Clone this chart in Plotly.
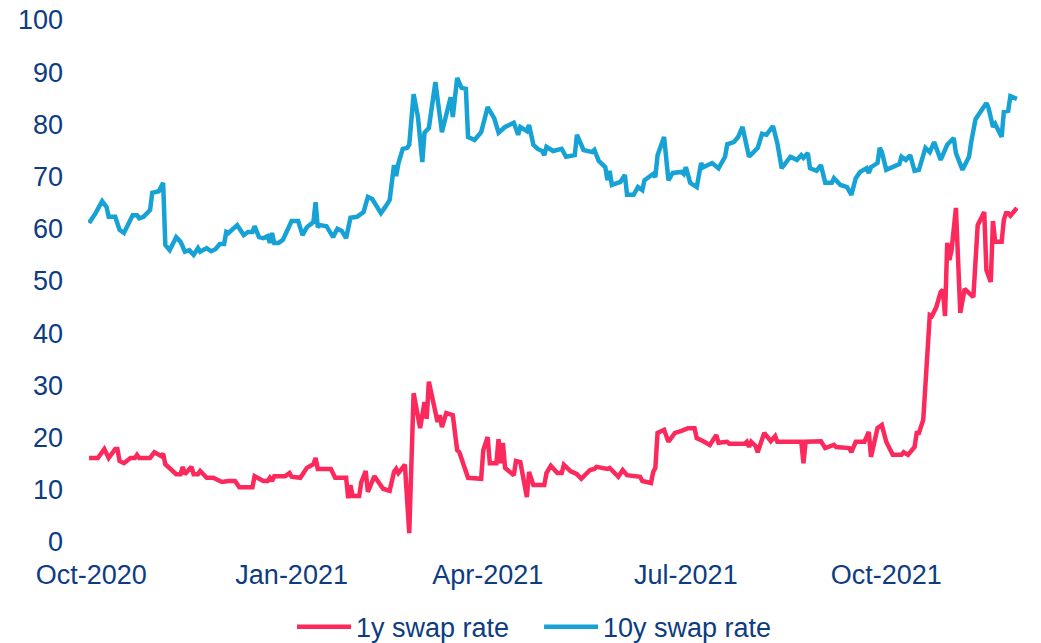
import pandas as pd
import plotly.graph_objects as go

START = "2020-10-01"

# 10y swap rate: days after 2020-10-01 and values (bp)
days_10y = [-1, 2, 5, 7, 8, 11, 13, 15, 19, 21,
            22, 24, 27, 28, 31, 33, 34, 36, 39, 41,
            43, 45, 47, 49, 50, 53, 55, 57, 59, 61,
            62, 63, 67, 70, 72, 74, 75, 77, 79, 81,
            82, 83, 84, 86, 88, 90, 92, 95, 97, 99,
            102, 103, 104, 105, 108, 111, 113, 115, 117, 119,
            122, 125, 127, 129, 133, 135, 137, 139, 140, 141,
            143, 145, 146, 148, 150, 152, 153, 155, 158, 161,
            163, 165, 166, 168, 170, 172, 173, 176, 179, 182,
            185, 187, 190, 194, 196, 197, 200, 201, 203, 205,
            207, 208, 209, 212, 216, 218, 222, 223, 226, 230,
            231, 233, 236, 237, 238, 239, 243, 245, 246, 249,
            251, 253, 254, 256, 258, 259, 260, 263, 265, 267,
            271, 272, 273, 275, 278, 280, 281, 285, 288, 291,
            292, 295, 297, 299, 302, 306, 308, 310, 313, 315,
            317, 321, 324, 326, 327, 329, 330, 333, 335, 337,
            340, 341, 344, 347, 349, 351, 353, 356, 357, 358,
            361, 362, 363, 365, 368, 371, 372, 374, 376, 378,
            380, 383, 385, 387, 390, 393, 396, 397, 400, 403,
            404, 406, 411, 412, 414, 415, 418, 419, 421, 422,
            425]
vals_10y = [61.1, 63, 65.3, 64.2, 62.3, 62.3, 59.8, 59.2, 62.6, 62.6,
            62, 62.3, 63.6, 66.9, 67.2, 68.8, 56.9, 55.9, 58.4, 57.5,
            55.6, 55.9, 55, 56.3, 55.6, 56.3, 55.7, 56.1, 57.1, 57.1,
            59.4, 59.2, 60.7, 58.8, 59.4, 59.4, 60.5, 58.4, 58.2, 58.6,
            57.3, 59.2, 57.3, 57.3, 57.9, 59.8, 61.5, 61.5, 58.8, 60.3,
            61.3, 65.1, 60.3, 60.7, 60.5, 58.4, 60, 59.6, 58.2, 62.1,
            62.3, 63.2, 66.1, 65.7, 63, 64.2, 65.5, 72.2, 70.1, 72.5,
            75.3, 75.5, 76.1, 85.8, 81.4, 72.8, 78.4, 79.3, 88.1, 78.5,
            82.2, 85.2, 81.4, 88.9, 87, 86.8, 77.6, 77, 78.5, 83.3,
            81.2, 78.4, 79.5, 80.3, 78, 79.5, 78.7, 79.9, 76.1, 75.3,
            74.9, 74.1, 75.7, 74.9, 75.3, 73.8, 74.1, 78, 75.1, 74.7,
            75.1, 73, 71.8, 69.3, 71.1, 68.4, 69, 70.3, 66.5, 66.5,
            68, 67.4, 69.3, 69.9, 70.5, 69.9, 74.1, 77.6, 69.3, 70.7,
            70.9, 70.5, 71.8, 68.8, 68, 72.6, 71.8, 72.6, 71.6, 73.8,
            76.2, 76.6, 77.6, 79.5, 73.8, 75.5, 78.2, 78, 79.7, 76.4,
            71.6, 73.8, 73.2, 74.1, 73.6, 74.5, 71.6, 71.1, 72.2, 68.8,
            68.8, 69.7, 68.4, 68, 66.5, 69.7, 70.9, 71.6, 70.7, 71.8,
            72.6, 75.5, 74.7, 71.3, 71.8, 72.4, 73.8, 73.2, 74.1, 71.1,
            71.3, 75.5, 74.7, 76.6, 73.2, 76.1, 77.4, 74.5, 71.3, 73.8,
            76.6, 81, 84.1, 83.1, 79.5, 80.1, 77.6, 82.4, 82.6, 85.4,
            84.9]

# 1y swap rate
days_1y = [-1, 3, 6, 8, 11, 12, 13, 15, 18, 20,
           21, 22, 27, 29, 32, 33, 34, 39, 41, 42,
           43, 46, 47, 49, 50, 53, 56, 60, 63, 66,
           68, 74, 75, 79, 81, 82, 83, 84, 89, 91,
           92, 96, 99, 102, 103, 104, 110, 112, 117, 118,
           119, 120, 123, 124, 126, 127, 130, 134, 137, 139,
           140, 141, 144, 146, 148, 151, 153, 154, 155, 159,
           160, 161, 163, 166, 168, 169, 173, 179, 180, 182,
           183, 186, 187, 188, 189, 190, 194, 195, 197, 200,
           201, 203, 208, 209, 211, 214, 216, 217, 220, 223,
           225, 229, 231, 232, 237, 238, 242, 244, 246, 252,
           253, 257, 258, 259, 260, 263, 265, 268, 271, 274,
           277, 278, 281, 284, 287, 288, 292, 293, 300, 301,
           302, 303, 305, 306, 308, 309, 312, 314, 315, 326,
           327, 328, 335, 337, 341, 342, 348, 349, 351, 355,
           357, 358, 361, 363, 365, 368, 372, 373, 375, 378,
           379, 380, 382, 383, 384, 385, 386, 388, 390, 391,
           392, 393, 394, 395, 397, 398, 399, 401, 404, 405,
           407, 410, 411, 413, 414, 415, 418, 419, 420, 421,
           422, 425]
vals_1y = [16.1, 16.1, 17.8, 16.1, 17.8, 17.8, 15.5, 15.1, 16.1, 16.1,
           16.7, 16.1, 16.1, 17.2, 16.5, 16.9, 14.9, 13, 13, 14.4,
           13, 14.4, 13, 13, 13.6, 12.3, 12.3, 11.5, 11.7, 11.7,
           10.5, 10.5, 12.6, 11.7, 11.7, 12.3, 11.7, 12.6, 12.6, 13.2,
           12.5, 12.3, 14.2, 14.9, 16.1, 14, 14, 12.3, 12.3, 8.4,
           10.9, 8.8, 8.8, 11.5, 13.6, 9.6, 12.6, 10.2, 9.8, 13.4,
           14, 13.2, 14.8, 1.7, 28.5, 21.8, 26.8, 23.6, 30.7, 23,
           24.3, 22, 24.7, 24.3, 17.6, 17.2, 12.3, 12.1, 17.6, 20.1,
           15.1, 15.1, 19.7, 15.1, 19, 14.2, 12.8, 15.5, 15.3, 8.6,
           13.4, 10.9, 10.9, 13.2, 14.6, 13.2, 13.2, 14.8, 13.6, 13,
           12.1, 13.8, 14, 14.4, 14, 14.2, 12.5, 13.8, 12.8, 12.5,
           11.7, 11.3, 13.4, 14.2, 20.9, 21.5, 19.2, 20.9, 21.3, 21.8,
           21.8, 19.9, 19.3, 18.6, 20.5, 19, 19.2, 18.8, 18.8, 19.2,
           18.2, 19.2, 18.4, 17.2, 19.7, 20.9, 19.3, 20.3, 19.2, 19.2,
           15.1, 19.2, 19.3, 18, 18.6, 18.2, 18, 17.2, 19.2, 19.2,
           21.1, 16.3, 21.8, 22.4, 19.2, 16.7, 16.7, 17.2, 16.7, 18.2,
           20.9, 20.9, 23.4, 30, 36.8, 43.5, 43.3, 45, 47.9, 48.3,
           43.3, 57.3, 54, 55.9, 64, 54.4, 43.9, 48.5, 47.1, 46.9,
           60.7, 63.2, 52.1, 49.8, 61.5, 57.5, 57.5, 61.7, 63, 63,
           62.5, 64]

tick_dates = ["2020-10-01", "2021-01-01", "2021-04-01", "2021-07-01", "2021-10-01"]
tick_labels = ["Oct-2020", "Jan-2021", "Apr-2021", "Jul-2021", "Oct-2021"]
y_ticks = [0, 10, 20, 30, 40, 50, 60, 70, 80, 90, 100]

start = pd.Timestamp(START)
x_1y = start + pd.to_timedelta(days_1y, unit="D")
x_10y = start + pd.to_timedelta(days_10y, unit="D")

RED = "#FB295C"
BLUE = "#17A2D6"
NAVY = "#0E3C80"
FONT = "Liberation Sans, Arial, sans-serif"

fig = go.Figure()
fig.add_trace(go.Scatter(x=x_1y, y=vals_1y, mode="lines", name="1y swap rate",
                         line=dict(color=RED, width=4.5)))
fig.add_trace(go.Scatter(x=x_10y, y=vals_10y, mode="lines", name="10y swap rate",
                         line=dict(color=BLUE, width=4.5)))

fig.update_layout(
    width=1033, height=635,
    margin=dict(l=80, r=23, t=12, b=101, autoexpand=False),
    paper_bgcolor="white", plot_bgcolor="white",
    font=dict(family=FONT, size=27, color=NAVY),
    showlegend=True,
    legend=dict(orientation="h", x=0.485, xanchor="center",
                yref="container", y=0.025, yanchor="middle",
                font=dict(family=FONT, size=27, color=NAVY),
                itemwidth=54, entrywidth=178, bgcolor="rgba(0,0,0,0)"),
    xaxis=dict(type="date",
               range=[start - pd.Timedelta(hours=36), start + pd.Timedelta(days=425, hours=12)],
               tickvals=tick_dates, ticktext=tick_labels,
               showgrid=False, zeroline=False, showline=False,
               ticks="", ticklabelstandoff=14, ticklabeloverflow="allow",
               tickfont=dict(family=FONT, size=27, color=NAVY)),
    yaxis=dict(range=[0, 100], tickvals=y_ticks,
               showgrid=False, zeroline=False, showline=False,
               ticks="", ticklabelstandoff=24, ticklabeloverflow="allow",
               tickfont=dict(family=FONT, size=27, color=NAVY)),
)

fig.write_html("out.html")
